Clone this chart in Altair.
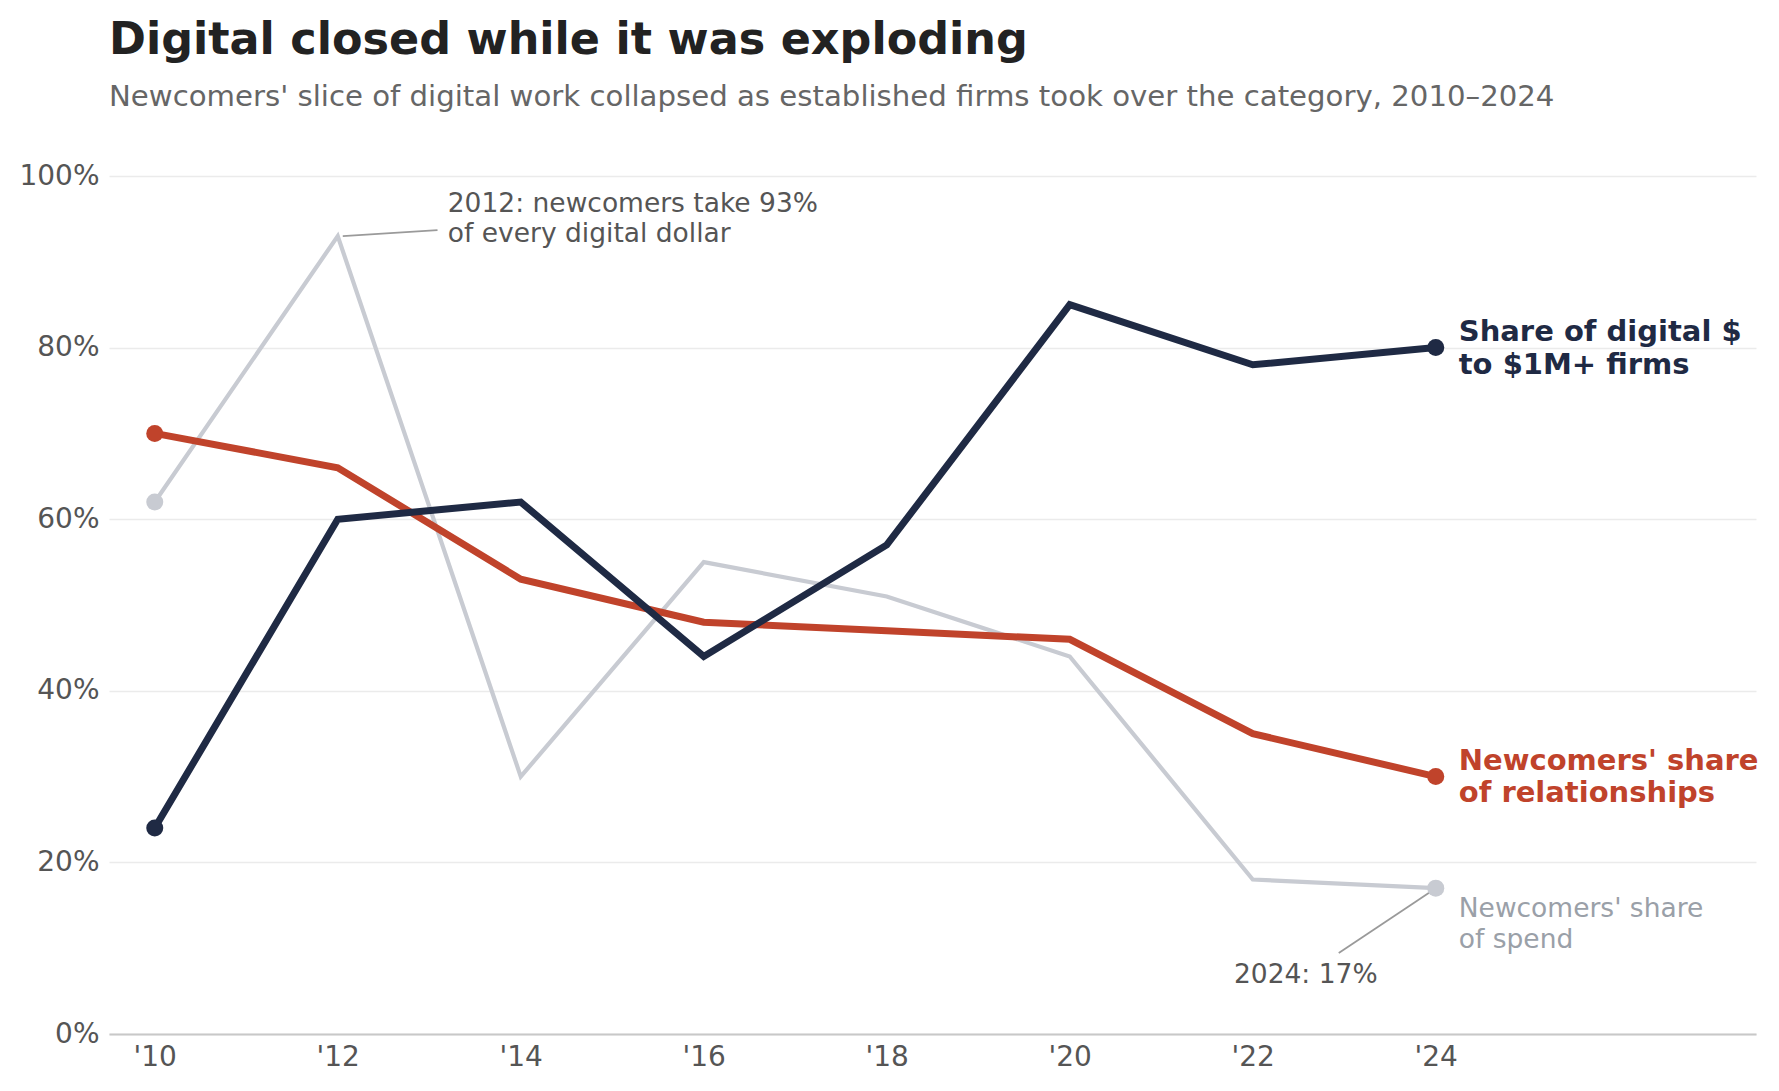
import json
import altair as alt
import pandas as pd

# ---- data ----
years = [2010, 2012, 2014, 2016, 2018, 2020, 2022, 2024]
tick_labels = ["'10", "'12", "'14", "'16", "'18", "'20", "'22", "'24"]
share_big_firms = [24, 60, 62, 44, 57, 85, 78, 80]
newcomer_relationships = [70, 66, 53, 48, 47, 46, 35, 30]
newcomer_spend = [62, 93, 30, 55, 51, 44, 18, 17]

series_keys = ["spend", "rel", "big"]
series_colors = ["#c8cbd2", "#c0432b", "#1f2a44"]
series_labels = [
    "Newcomers' share\nof spend",
    "Newcomers' share\nof relationships",
    "Share of digital $\nto $1M+ firms",
]

FONT = "DejaVu Sans"

def series_df(key, values):
    return pd.DataFrame({"year": years, "value": values, "series": key})

df_spend = series_df("spend", newcomer_spend)
df_rel = series_df("rel", newcomer_relationships)
df_big = series_df("big", share_big_firms)

label_expr = (
    json.dumps(tick_labels) + "[indexof(" + json.dumps(years) + ", datum.value)]"
)

x_enc = alt.X(
    "year:Q",
    scale=alt.Scale(domain=[2009.5, 2027.5], nice=False, zero=False),
    axis=alt.Axis(
        values=years,
        labelExpr=label_expr,
        title=None,
        grid=False,
        ticks=False,
        domain=True,
        domainColor="#c8c8c8",
        domainWidth=2,
        labelFontSize=28,
        labelColor="#555555",
        labelFont=FONT,
        labelPadding=9,
    ),
)
y_enc = alt.Y(
    "value:Q",
    scale=alt.Scale(domain=[0, 100], nice=False),
    axis=alt.Axis(
        values=[0, 20, 40, 60, 80, 100],
        labelExpr="datum.value + '%'",
        title=None,
        grid=True,
        gridColor="#ebebeb",
        gridWidth=1.5,
        ticks=False,
        domain=False,
        labelFontSize=28,
        labelColor="#555555",
        labelFont=FONT,
        labelPadding=10,
    ),
)

def line_layer(df, color, width):
    return alt.Chart(df).mark_line(color=color, strokeWidth=width, strokeJoin="miter").encode(
        x=x_enc, y=y_enc
    )

def dot_layer(df, color):
    ends = df[df["year"].isin([years[0], years[-1]])]
    return alt.Chart(ends).mark_circle(color=color, size=290, opacity=1).encode(
        x="year:Q", y="value:Q"
    )

def end_label(df, text, color, weight, size, dy, lh):
    last = df[df["year"] == years[-1]].assign(label=text)
    return alt.Chart(last).mark_text(
        align="left", baseline="middle", dx=23, dy=dy, lineBreak="\n",
        font=FONT, fontSize=size, fontWeight=weight, color=color, lineHeight=lh,
    ).encode(x="year:Q", y="value:Q", text="label:N")

# leader lines of the two notes (data coordinates)
leaders = pd.DataFrame({
    "x": [2012.055, 2023.96],
    "y": [93.0, 16.7],
    "x2": [2013.09, 2022.94],
    "y2": [93.7, 9.45],
})
leader_layer = alt.Chart(leaders).mark_rule(color="#9a9a9a", strokeWidth=1.8).encode(
    x="x:Q", y="y:Q", x2="x2:Q", y2="y2:Q"
)

peak = df_spend[df_spend["year"] == 2012].assign(label="2012: newcomers take 93%\nof every digital dollar")
note_peak = alt.Chart(peak).mark_text(
    align="left", baseline="middle", dx=110, dy=-32, lineBreak="\n",
    font=FONT, fontSize=26.5, color="#555555", lineHeight=30,
).encode(x="year:Q", y="value:Q", text="label:N")

last_spend = df_spend[df_spend["year"] == 2024].assign(label="2024: 17%")
note_last = alt.Chart(last_spend).mark_text(
    align="center", baseline="middle", dx=-130, dy=87,
    font=FONT, fontSize=26.5, color="#555555",
).encode(x="year:Q", y="value:Q", text="label:N")

chart = alt.layer(
    line_layer(df_spend, series_colors[0], 4.2),
    line_layer(df_rel, series_colors[1], 7),
    line_layer(df_big, series_colors[2], 7),
    leader_layer,
    dot_layer(df_spend, series_colors[0]),
    dot_layer(df_rel, series_colors[1]),
    dot_layer(df_big, series_colors[2]),
    end_label(df_big, series_labels[2], series_colors[2], "bold", 29, -16, 33),
    end_label(df_rel, series_labels[1], series_colors[1], "bold", 29, -16, 32),
    end_label(df_spend, series_labels[0], "#9aa0a8", "normal", 26.5, 21, 31),
    note_peak,
    note_last,
).properties(
    width=1647,
    height=858,
    background="white",
    autosize=alt.AutoSizeParams(type="none"),
    padding={"left": 101, "top": 168, "right": 15, "bottom": 49},
    title=alt.TitleParams(
        text="Digital closed while it was exploding",
        subtitle="Newcomers' slice of digital work collapsed as established firms took over the category, 2010\u20132024",
        anchor="start",
        frame="group",
        font=FONT,
        fontSize=44.5,
        fontWeight="bold",
        color="#222222",
        subtitleFont=FONT,
        subtitleFontSize=29.2,
        subtitleColor="#666666",
        subtitlePadding=19,
        offset=49,
    ),
).configure_view(strokeWidth=0)

chart.save("out.html", embed_options={"renderer": "svg", "actions": False})
